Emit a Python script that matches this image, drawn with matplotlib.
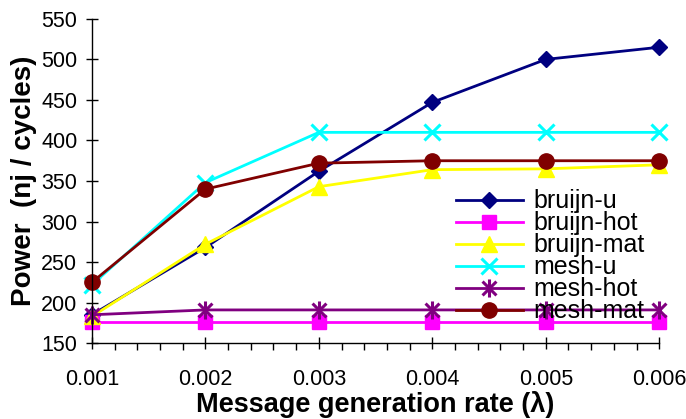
import matplotlib.pyplot as plt
from matplotlib.path import Path
from matplotlib.ticker import MultipleLocator

plt.rcParams['font.family'] = ['Liberation Sans', 'DejaVu Sans']

# Message generation rate and power per topology / traffic pattern
rates = [0.001, 0.002, 0.003, 0.004, 0.005, 0.006]
bruijn_u = [185, 268, 362, 447, 500, 515]
bruijn_hot = [176, 176, 176, 176, 176, 176]
bruijn_mat = [183, 272, 343, 364, 365, 370]
mesh_u = [222, 348, 410, 410, 410, 410]
mesh_hot = [185, 191, 191, 191, 191, 191]
mesh_mat = [225, 340, 372, 375, 375, 375]

# Excel style star: an X with a vertical stroke
star = Path([(-1, -1), (1, 1), (-1, 1), (1, -1), (0, -1.3), (0, 1.3)],
            [Path.MOVETO, Path.LINETO, Path.MOVETO, Path.LINETO, Path.MOVETO, Path.LINETO])

series = [
    ("bruijn-u", bruijn_u, "#000080", "D", 8.5),
    ("bruijn-hot", bruijn_hot, "#FF00FF", "s", 10),
    ("bruijn-mat", bruijn_mat, "#FFFF00", "^", 12),
    ("mesh-u", mesh_u, "#00FFFF", "x", 12),
    ("mesh-hot", mesh_hot, "#800080", star, 13),
    ("mesh-mat", mesh_mat, "#800000", "o", 11),
]

fig = plt.figure(figsize=(6.86, 4.19), dpi=100)
ax = fig.add_axes([0.134, 0.181, 0.827, 0.774])

for name, vals, color, marker, ms in series:
    edge = 2.2 if marker in ("x", star) else 1
    ax.plot(rates, vals, color=color, lw=2, marker=marker, ms=ms,
            mfc=color, mec=color, mew=edge, label=name, clip_on=False)

ax.set_xlim(0.001, 0.006)
ax.set_ylim(150, 550)
ax.set_xticks(rates)
ax.set_xticklabels([f"{r:.3f}" for r in rates])
ax.xaxis.set_minor_locator(MultipleLocator(0.0002))
ax.yaxis.set_major_locator(MultipleLocator(50))

for side in ("top", "right"):
    ax.spines[side].set_visible(False)
for side in ("left", "bottom"):
    ax.spines[side].set_linewidth(1)

ax.tick_params(axis="both", which="major", direction="inout", length=9,
               width=1, labelsize=15.5)
ax.tick_params(axis="x", which="minor", direction="out", length=5, width=1)
ax.tick_params(axis="x", which="major", pad=14)
ax.tick_params(axis="y", which="major", pad=6)

ax.set_xlabel("Message generation rate (λ)", fontsize=19.5, fontweight="bold", labelpad=1)
ax.set_ylabel("Power  (nj / cycles)", fontsize=20, fontweight="bold", labelpad=3)

ax.legend(loc="upper left", bbox_to_anchor=(0.664, 0.548), bbox_transform=fig.transFigure,
          frameon=False, fontsize=18, handlelength=2.7, handletextpad=0.4,
          labelspacing=-0.08, borderpad=0, borderaxespad=0)

fig.savefig("out.png", dpi=100)
